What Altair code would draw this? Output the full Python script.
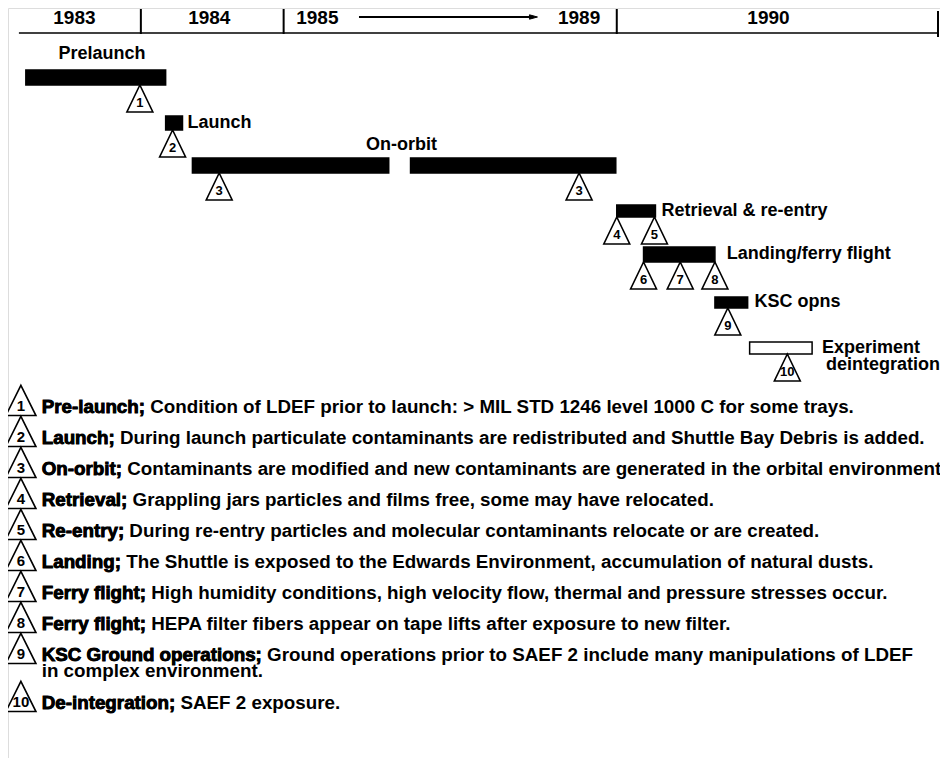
import altair as alt
import pandas as pd

# ---------------- header timeline ----------------
year_labels = ["1983", "1984", "1985", "1989", "1990"]
year_pos = [71, 207, 316, 580, 771]
year_level = 18
divider_pos = [138, 282, 618, 942]
divider_top = [9, 9, 9, 11]
divider_bottom = [34, 34, 34, 37]
axis_span = [15, 942]
axis_level = 33
arrow_span = [358, 530]
arrow_tip = 538
arrow_level = 17

# ---------------- phases (bars) ----------------
phase_names = ["Prelaunch", "Launch", "On-orbit", "On-orbit", "Retrieval & re-entry",
               "Landing/ferry flight", "KSC opns", "Experiment deintegration"]
phase_start = [22, 163, 190, 410, 618, 645, 717, 752]
phase_end = [163, 180, 388, 617, 657, 717, 750, 815]
phase_top = [70, 116, 158, 158, 205, 247, 297, 342]
phase_bottom = [85, 130, 173, 173, 217, 262, 308, 354]
phase_fill = ["black", "black", "black", "black", "black", "black", "black", "white"]

phase_label = ["Prelaunch", "Launch", "On-orbit", "Retrieval & re-entry",
               "Landing/ferry flight", "KSC opns", "Experiment", "deintegration"]
phase_label_x = [55, 185, 365, 663, 729, 757, 825, 829]
phase_label_y = [54, 123, 145, 211, 254, 302, 348, 365]

# ---------------- event markers on timeline ----------------
marker_num = ["1", "2", "3", "3", "4", "5", "6", "7", "8", "9", "10"]
marker_x = [137, 170, 217, 580, 618, 656, 645, 682, 717, 730, 790]
marker_apex = [85, 130, 173, 173, 217, 217, 262, 262, 262, 308, 354]

# ---------------- key ----------------
key_num = ["1", "2", "3", "4", "5", "6", "7", "8", "9", "10"]
key_term = ["Pre-launch;", "Launch;", "On-orbit;", "Retrieval;", "Re-entry;",
            "Landing;", "Ferry flight;", "Ferry flight;", "KSC Ground operations;",
            "De-integration;"]
key_detail = [
    "Condition of LDEF prior to launch: > MIL STD 1246 level 1000 C for some trays.",
    "During launch particulate contaminants are redistributed and Shuttle Bay Debris is added.",
    "Contaminants are modified and new contaminants are generated in the orbital environment.",
    "Grappling jars particles and films free, some may have relocated.",
    "During re-entry particles and molecular contaminants relocate or are created.",
    "The Shuttle is exposed to the Edwards Environment, accumulation of natural dusts.",
    "High humidity conditions, high velocity flow, thermal and pressure stresses occur.",
    "HEPA filter fibers appear on tape lifts after exposure to new filter.",
    "Ground operations prior to SAEF 2 include many manipulations of LDEF",
    "SAEF 2 exposure.",
]
key_row = [407, 438, 469, 500, 531, 562, 593, 624, 655, 703]
key_cont_text = ["in complex environment."]
key_cont_row = [671]
key_icon_x = 17
key_text_x = 38

FONT = "Liberation Sans"
XS = alt.Scale(domain=[4, 944], nice=False, zero=False)
YS = alt.Scale(domain=[8, 758], nice=False, zero=False, reverse=True)


def X(f):
    return alt.X(f, type="quantitative", scale=XS, axis=None)


def Y(f):
    return alt.Y(f, type="quantitative", scale=YS, axis=None)


years_df = pd.DataFrame({"label": year_labels, "x": year_pos,
                         "y": [year_level] * len(year_labels)})
div_df = pd.DataFrame({"x": divider_pos, "y": divider_top, "y2": divider_bottom})
axis_df = pd.DataFrame({"x": [axis_span[0]], "x2": [axis_span[1]], "y": [axis_level]})
arrow_df = pd.DataFrame({"x": [arrow_span[0]], "x2": [arrow_span[1]], "y": [arrow_level],
                         "tip": [arrow_tip]})

phase_df = pd.DataFrame({"name": phase_names, "x": phase_start, "x2": phase_end,
                         "y": phase_top, "y2": phase_bottom, "fill": phase_fill})
plabel_df = pd.DataFrame({"label": phase_label, "x": phase_label_x, "y": phase_label_y})
marker_df = pd.DataFrame({"num": marker_num, "x": marker_x, "y": marker_apex})

key_df = pd.DataFrame({"num": key_num, "term": key_term, "detail": key_detail, "y": key_row})
key_df["line"] = key_df["term"] + "  " + key_df["detail"]
key_df["x"] = key_text_x
key_df["ix"] = key_icon_x
cont_df = pd.DataFrame({"line": key_cont_text, "y": key_cont_row, "x": key_text_x})

year_text = alt.Chart(years_df).mark_text(
    font=FONT, fontWeight="bold", fontSize=19, baseline="middle", align="center", color="black"
).encode(x=X("x"), y=Y("y"), text="label:N")

div_rule = alt.Chart(div_df).mark_rule(color="black", strokeWidth=2).encode(
    x=X("x"), y=Y("y"), y2=alt.Y2("y2"))
axis_rule = alt.Chart(axis_df).mark_rule(color="black", strokeWidth=1.5).encode(
    x=X("x"), x2=alt.X2("x2"), y=Y("y"))
arrow_rule = alt.Chart(arrow_df).mark_rule(color="black", strokeWidth=2).encode(
    x=X("x"), x2=alt.X2("x2"), y=Y("y"))
arrow_head = alt.Chart(arrow_df).mark_point(
    shape="M0,0L-2,-0.55L-2,0.55Z", size=64, filled=True, fill="black", stroke="black",
    strokeWidth=1, opacity=1
).encode(x=X("tip"), y=Y("y"))

bars = alt.Chart(phase_df).mark_rect(stroke="black", strokeWidth=1.5).encode(
    x=X("x"), x2=alt.X2("x2"), y=Y("y"), y2=alt.Y2("y2"),
    fill=alt.Fill("fill:N", scale=None))

bar_labels = alt.Chart(plabel_df).mark_text(
    font=FONT, fontWeight="bold", fontSize=18, baseline="middle", align="left", color="black"
).encode(x=X("x"), y=Y("y"), text="label:N")

markers = alt.Chart(marker_df).mark_point(
    shape="M0,0L0.96,2L-0.96,2Z", size=729, filled=True, fill="white", stroke="black",
    strokeWidth=1.6, opacity=1
).encode(x=X("x"), y=Y("y"))
marker_text = alt.Chart(marker_df).mark_text(
    font=FONT, fontWeight="bold", fontSize=13, baseline="middle", align="center", dy=18,
    color="black"
).encode(x=X("x"), y=Y("y"), text="num:N")

key_icons = alt.Chart(key_df).mark_point(
    shape="M0,-1.4L0.97,0.55L-0.97,0.55Z", size=961, filled=True, fill="white",
    stroke="black", strokeWidth=1.6, opacity=1
).encode(x=X("ix"), y=Y("y"))
key_icon_text = alt.Chart(key_df).mark_text(
    font=FONT, fontWeight="bold", fontSize=15, baseline="middle", align="center", dy=-1,
    color="black"
).encode(x=X("ix"), y=Y("y"), text="num:N")
key_lines = alt.Chart(key_df).mark_text(
    font=FONT, fontWeight="bold", fontSize=18.8, baseline="middle", align="left",
    color="black", clip=True
).encode(x=X("x"), y=Y("y"), text="line:N")
key_terms = alt.Chart(key_df).mark_text(
    font=FONT, fontWeight="bold", fontSize=18.8, baseline="middle", align="left",
    color="black", stroke="black", strokeWidth=0.8, clip=True
).encode(x=X("x"), y=Y("y"), text="term:N")
key_cont = alt.Chart(cont_df).mark_text(
    font=FONT, fontWeight="bold", fontSize=18.8, baseline="middle", align="left",
    color="black", clip=True
).encode(x=X("x"), y=Y("y"), text="line:N")

chart = alt.layer(
    axis_rule, div_rule, arrow_rule, arrow_head, year_text,
    bars, bar_labels, markers, marker_text,
    key_icons, key_icon_text, key_lines, key_terms, key_cont
).properties(
    width=932, height=750, padding=0,
    autosize=alt.AutoSizeParams(type="none")
).configure_view(
    strokeWidth=0, stroke="transparent", fill="white"
).configure_axis(
    domain=False, ticks=False, labels=False, grid=False
).configure(background="white")

chart.save("out.html", embed_options={"renderer": "svg", "actions": False})
